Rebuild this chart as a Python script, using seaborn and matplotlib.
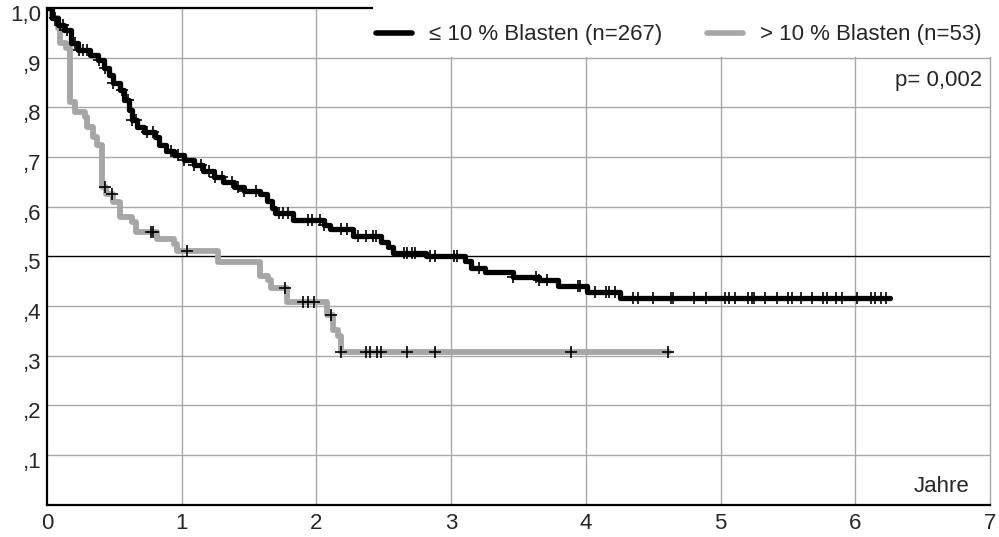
import numpy as np
import pandas as pd
import matplotlib
matplotlib.use('Agg')
import matplotlib.pyplot as plt
import matplotlib.transforms as mtransforms
import seaborn as sns
from matplotlib.lines import Line2D
from matplotlib.patches import Rectangle

# Kaplan-Meier step points (time in years, survival)
low_t = [0, 0.04, 0.08, 0.13, 0.18, 0.23, 0.32, 0.38, 0.42, 0.46, 0.49, 0.54, 0.57, 0.61, 0.63,
         0.67, 0.72, 0.80, 0.83, 0.88, 0.94, 1.02, 1.09, 1.16, 1.24, 1.31, 1.39, 1.46, 1.58, 1.63,
         1.67, 1.69, 1.83, 2.06, 2.10, 2.27, 2.48, 2.53, 2.57, 2.81, 3.10, 3.15, 3.25, 3.46, 3.65,
         3.79, 4.01, 4.25, 6.26]
low_s = [1.0, 0.98, 0.966, 0.955, 0.93, 0.915, 0.905, 0.895, 0.88, 0.865, 0.85, 0.835, 0.815, 0.795, 0.775,
         0.76, 0.75, 0.74, 0.725, 0.712, 0.705, 0.695, 0.685, 0.672, 0.66, 0.65, 0.64, 0.632, 0.625, 0.612,
         0.598, 0.588, 0.573, 0.563, 0.555, 0.541, 0.53, 0.519, 0.507, 0.501, 0.49, 0.477, 0.469, 0.458, 0.452,
         0.441, 0.428, 0.417, 0.417]
low_cens = [0.06, 0.10, 0.12, 0.15, 0.21, 0.24, 0.27, 0.30, 0.39, 0.43, 0.49, 0.56, 0.60, 0.63, 0.66,
            0.74, 0.79, 0.92, 0.97, 1.02, 1.09, 1.14, 1.20, 1.25, 1.30, 1.37, 1.42, 1.46, 1.55, 1.72,
            1.75, 1.79, 1.94, 1.97, 2.03, 2.06, 2.18, 2.23, 2.31, 2.37, 2.42, 2.44, 2.65, 2.67, 2.71,
            2.73, 2.84, 2.88, 3.02, 3.04, 3.21, 3.46, 3.63, 3.65, 3.71, 3.94, 3.96, 4.07, 4.15, 4.17,
            4.22, 4.35, 4.39, 4.50, 4.63, 4.65, 4.80, 4.89, 5.03, 5.06, 5.11, 5.20, 5.23, 5.25, 5.33,
            5.42, 5.50, 5.53, 5.60, 5.68, 5.76, 5.79, 5.86, 5.90, 6.01, 6.12, 6.15, 6.19, 6.23]

high_t = [0, 0.04, 0.08, 0.10, 0.14, 0.17, 0.21, 0.28, 0.30, 0.34, 0.37, 0.405, 0.44, 0.49, 0.54,
          0.63, 0.66, 0.82, 0.94, 0.965, 1.27, 1.58, 1.64, 1.66, 1.78, 2.08, 2.12, 2.16, 2.18, 4.62]
high_s = [1.0, 0.98, 0.96, 0.93, 0.92, 0.81, 0.79, 0.78, 0.76, 0.74, 0.725, 0.64, 0.625, 0.61, 0.58,
          0.57, 0.55, 0.535, 0.525, 0.51, 0.488, 0.46, 0.452, 0.436, 0.408, 0.382, 0.352, 0.34, 0.308, 0.308]
high_cens = [0.43, 0.48, 0.77, 0.79, 1.04, 1.77, 1.90, 1.94, 1.98, 2.11, 2.18, 2.37, 2.40, 2.45,
             2.48, 2.67, 2.88, 3.89, 4.61]

labels = ['\u2264 10 % Blasten (n=267)', '> 10 % Blasten (n=53)']
x_ticks = [0, 1, 2, 3, 4, 5, 6, 7]
y_ticks = [0.0, 0.1, 0.2, 0.3, 0.4, 0.5, 0.6, 0.7, 0.8, 0.9, 1.0]
y_labels = ['', ',1', ',2', ',3', ',4', ',5', ',6', ',7', ',8', ',9', '1,0']

sns.set_style('white')
plt.rcParams['font.family'] = ['Liberation Sans', 'DejaVu Sans']
plt.rcParams['font.size'] = 16

GRAY = '#a6a6a6'
GRID = '#a8a8a8'


def censor_points(t, s, cens):
    idx = np.searchsorted(t, cens, side='right') - 1
    return pd.DataFrame({'t': cens, 's': np.asarray(s)[idx]})


fig, ax = plt.subplots(figsize=(9.99, 5.37), dpi=100)
fig.subplots_adjust(left=0.047, right=0.991, top=0.985, bottom=0.06)

# grid
for x in x_ticks[1:-1]:
    ax.axvline(x, color=GRID, lw=1, zorder=1)
for y in y_ticks[1:-1]:
    ax.axhline(y, color='black' if y == 0.5 else GRID, lw=1, zorder=1)

sns.lineplot(x=high_t, y=high_s, drawstyle='steps-post', estimator=None, sort=False,
             color=GRAY, lw=4.2, ax=ax, zorder=3)
sns.lineplot(x=low_t, y=low_s, drawstyle='steps-post', estimator=None, sort=False,
             color='black', lw=3.8, ax=ax, zorder=4)

cl = censor_points(low_t, low_s, low_cens)
ch = censor_points(high_t, high_s, high_cens)
sns.scatterplot(data=cl, x='t', y='s', marker='+', s=70, color='black', linewidth=1.2, ax=ax, zorder=5)
sns.scatterplot(data=ch, x='t', y='s', marker='+', s=70, color='black', linewidth=1.2, ax=ax, zorder=5)

ax.set_xlim(0, 7)
ax.set_ylim(0, 1.0)
ax.set_xticks(x_ticks)
ax.set_xticklabels([str(v) for v in x_ticks])
ax.set_yticks(y_ticks)
ax.set_yticklabels(y_labels)
ax.set_xlabel('')
ax.set_ylabel('')
ax.tick_params(axis='both', direction='out', length=3, width=3, color='black', labelsize=16)
ax.tick_params(axis='x', pad=3)
ax.tick_params(axis='y', pad=1)

# y labels sit slightly below their ticks in the original
shift = mtransforms.ScaledTranslation(0, -5 / 100, fig.dpi_scale_trans)
for lab in ax.get_yticklabels():
    lab.set_transform(lab.get_transform() + shift)

for side in ['left', 'bottom', 'top']:
    ax.spines[side].set_color('black')
    ax.spines[side].set_linewidth(1.6)
ax.spines['right'].set_color(GRID)
ax.spines['right'].set_linewidth(1)

# white area behind the legend
ax.add_patch(Rectangle((2.42, 0.902), 4.7, 0.12, transform=ax.transData,
                       facecolor='white', edgecolor='none', clip_on=False, zorder=6))

handles = [Line2D([], [], color='black', lw=4), Line2D([], [], color=GRAY, lw=4)]
leg = ax.legend(handles, labels, ncol=2, loc='center right', bbox_to_anchor=(0.9915, 0.946),
                frameon=False, borderpad=0, borderaxespad=0, handlelength=1.6,
                handletextpad=0.8, columnspacing=2.0, fontsize=16)
leg.set_zorder(7)

ax.text(6.94, 0.855, 'p= 0,002', ha='right', va='center', fontsize=16, zorder=7)
ax.text(6.85, 0.036, 'Jahre', ha='right', va='center', fontsize=16)

fig.savefig('out.png', dpi=100)
